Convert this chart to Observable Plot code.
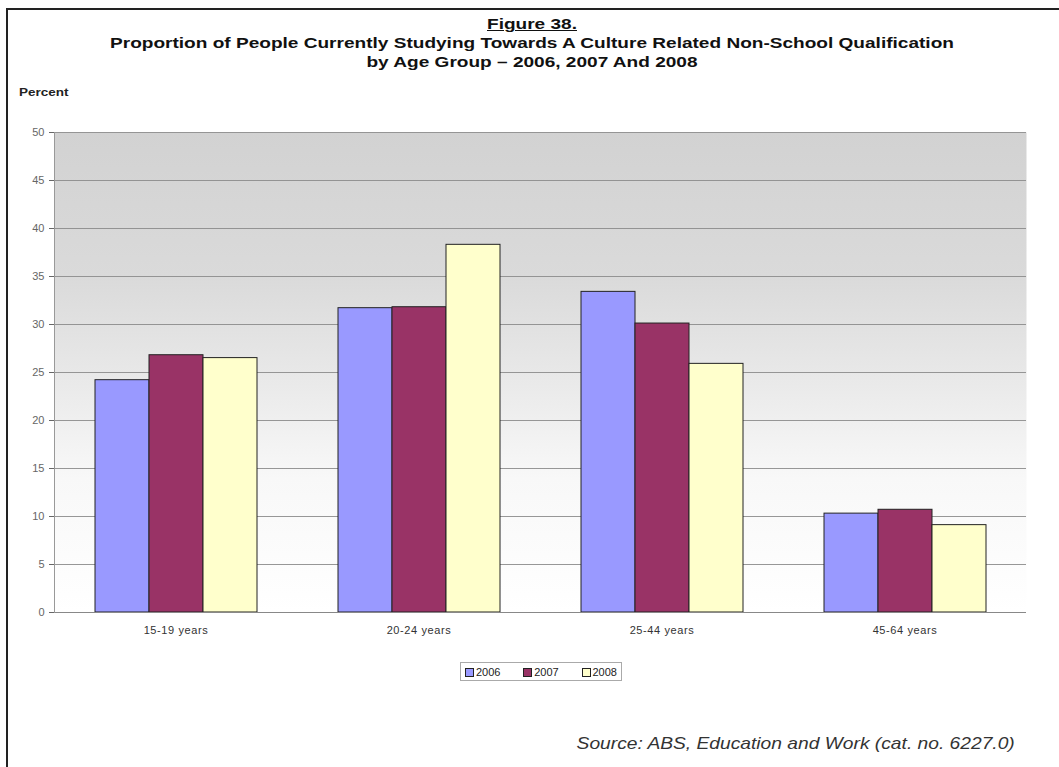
<!DOCTYPE html>
<html><head><meta charset="utf-8">
<script src="https://cdn.jsdelivr.net/npm/d3@7"></script>
<script src="https://cdn.jsdelivr.net/npm/@observablehq/plot@0.6"></script>
<style>
body{margin:0;background:#fff;font-family:"Liberation Sans",Arial,sans-serif;}
#wrap{position:relative;width:1059px;height:767px;overflow:hidden;background:#fff;}
#border{position:absolute;left:6px;top:8px;width:1100px;height:800px;border-left:2px solid #222;border-top:2px solid #222;}
#title{position:absolute;left:0;width:1064px;top:14px;text-align:center;font-weight:bold;font-size:15px;line-height:19px;color:#111;transform:scaleX(1.27);transform-origin:532px 0;}
#title u{text-decoration-thickness:1px;}
#ylab{position:absolute;left:19px;top:87px;font-weight:bold;font-size:10px;color:#222;transform:scaleX(1.35);transform-origin:0 0;}
#chart{position:absolute;left:0;top:110px;}
#legend{position:absolute;left:460px;top:662px;width:152px;height:17px;padding:0 4px;border:1px solid #aaa;display:flex;align-items:center;justify-content:space-between;font-size:11px;color:#222;background:#fff;}
#legend span.sw{display:inline-block;width:7px;height:7px;border:1px solid #222;margin-right:2px;vertical-align:-1px;}
#source{position:absolute;right:44px;top:734px;font-style:italic;font-size:17px;color:#333;transform:scaleX(1.13);transform-origin:100% 0;}
</style>
</head><body>
<div id="wrap">
  <div id="border"></div>
  <div id="title"><u>Figure 38.</u><br>Proportion of People Currently Studying Towards A Culture Related Non-School Qualification<br>by Age Group &#8211; 2006, 2007 And 2008</div>
  <div id="ylab">Percent</div>
  <div id="chart"></div>
  <div id="legend"></div>
  <div id="source">Source: ABS, Education and Work (cat. no. 6227.0)</div>
</div>
<script>
const ages = ["15-19 years", "20-24 years", "25-44 years", "45-64 years"];
const years = ["2006", "2007", "2008"];
const v2006 = [24.2, 31.7, 33.4, 10.3];
const v2007 = [26.8, 31.8, 30.1, 10.7];
const v2008 = [26.5, 38.3, 25.9, 9.1];
const yTicks = [0, 5, 10, 15, 20, 25, 30, 35, 40, 45, 50];
const colors = ["#9999ff", "#993366", "#ffffcc"];

const series = [v2006, v2007, v2008];
const data = ages.flatMap((a, i) => years.map((y, j) => ({age: a, year: y, value: series[j][i]})));

const chart = Plot.plot({
  width: 1059, height: 540,
  marginTop: 22, marginBottom: 38, marginLeft: 54, marginRight: 33,
  style: {fontFamily: "'Liberation Sans', Arial, sans-serif", background: "transparent", color: "#333"},
  fx: {domain: ages, padding: 0, label: null},
  x: {domain: years, paddingInner: 0, paddingOuter: 0.75, axis: null},
  y: {domain: [0, 50], label: null},
  color: {domain: years, range: colors},
  marks: [
    Plot.frame({fill: "url(#bgGrad)", stroke: null, facet: "super"}),
    Plot.gridY({ticks: yTicks, stroke: "#8c8c8c", strokeOpacity: 0.9}),
    Plot.axisY({ticks: yTicks, tickSize: 5, tickPadding: 5, fontSize: 11, color: "#666", label: null}),
    Plot.axisFx({anchor: "bottom", tickSize: 0, tickPadding: 14, fontSize: 11, color: "#333", label: null}),
    Plot.barY(data, {fx: "age", x: "year", y: "value", fill: "year", stroke: "#222", strokeWidth: 1}),
    Plot.ruleY([0], {stroke: "#888"}),
    Plot.frame({anchor: "left", facetAnchor: "left", stroke: "#999"})
  ]
});

const svg = d3.select(chart);
svg.selectAll("[aria-label='fx-axis tick label'] text").style("letter-spacing", "0.6px");
const defs = svg.insert("defs", ":first-child");
const g = defs.append("linearGradient").attr("id", "bgGrad").attr("x1", 0).attr("y1", 0).attr("x2", 0).attr("y2", 1);
[[0, "#d2d2d2"], [0.3, "#dadada"], [0.5, "#e8e8e8"], [0.72, "#f8f8f8"], [1, "#ffffff"]].forEach(([o, c]) =>
  g.append("stop").attr("offset", o).attr("stop-color", c));
document.getElementById("chart").appendChild(chart);

const legend = d3.select("#legend");
years.forEach((y, i) => {
  const item = legend.append("div");
  item.append("span").attr("class", "sw").style("background", colors[i]);
  item.append("span").text(y);
});
</script>
</body></html>
